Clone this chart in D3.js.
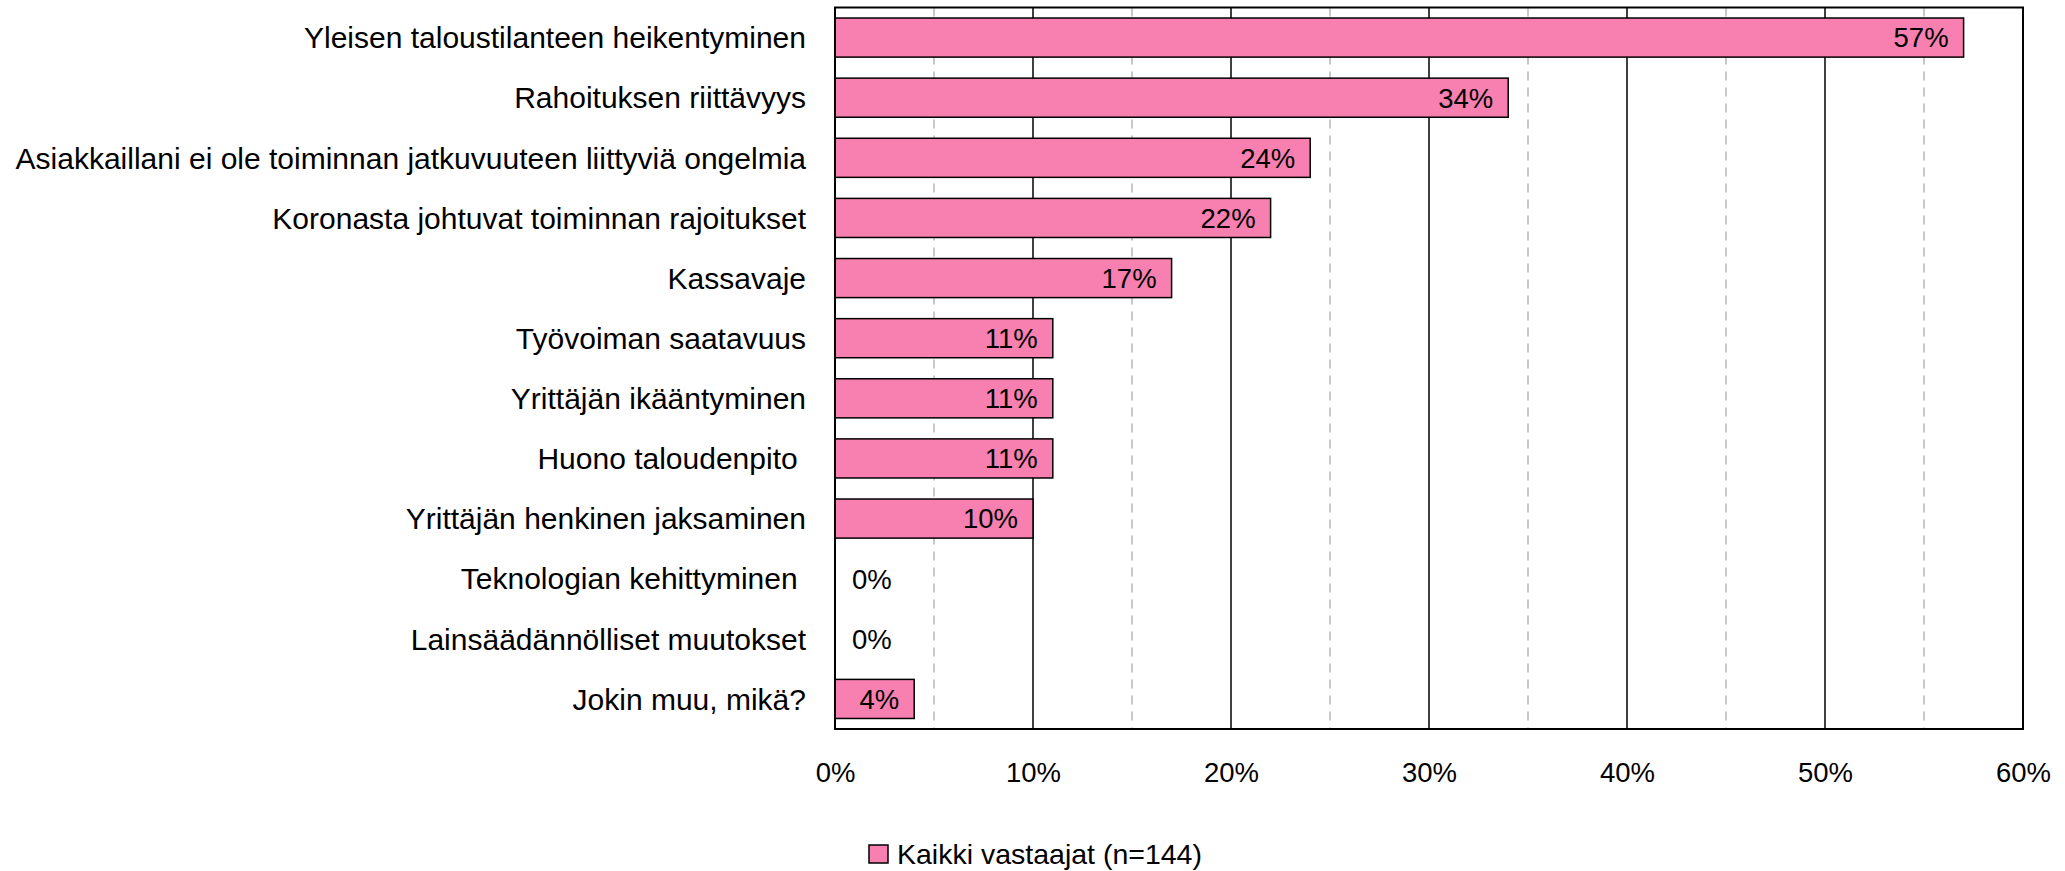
<!DOCTYPE html>
<html>
<head>
<meta charset="utf-8">
<script src="https://cdn.jsdelivr.net/npm/d3@7"></script>
<style>
  body { margin: 0; background: #fff; }
  svg text { font-family: "Liberation Sans", "DejaVu Sans", sans-serif; fill: #000; white-space: pre; }
</style>
</head>
<body>
<div id="vis"></div>
<script>
// Datos
const CATEGORIAS = [
    "Yleisen taloustilanteen heikentyminen",
    "Rahoituksen riittävyys",
    "Asiakkaillani ei ole toiminnan jatkuvuuteen liittyviä ongelmia",
    "Koronasta johtuvat toiminnan rajoitukset",
    "Kassavaje",
    "Työvoiman saatavuus",
    "Yrittäjän ikääntyminen",
    "Huono taloudenpito ",
    "Yrittäjän henkinen jaksaminen",
    "Teknologian kehittyminen ",
    "Lainsäädännölliset muutokset",
    "Jokin muu, mikä?"
];
const VALORES = [57, 34, 24, 22, 17, 11, 11, 11, 10, 0, 0, 4];
const TICKS_MAYORES = [0, 10, 20, 30, 40, 50, 60];
const TICKS_MENORES = [5, 15, 25, 35, 45, 55];
const LEYENDA = "Kaikki vastaajat (n=144)";

const WIDTH = 2065;
const HEIGHT = 871;
const MARGIN = { top: 7.5, bottom: 142, right: 42, left: 835 };

const COLOR_BARRA = "#F880B0";

const SVG = d3.select("#vis").append("svg")
    .attr("width", WIDTH).attr("height", HEIGHT);

const escalaX = d3.scaleLinear()
    .domain([0, 60])
    .range([MARGIN.left, WIDTH - MARGIN.right]);

const escalaY = d3.scaleBand()
    .domain(CATEGORIAS)
    .range([MARGIN.top, HEIGHT - MARGIN.bottom])
    .paddingInner(0.35)
    .paddingOuter(0.175);

const y0 = MARGIN.top;
const y1 = HEIGHT - MARGIN.bottom;

// Líneas de cuadrícula menores (punteadas)
SVG.append("g").selectAll("line")
    .data(TICKS_MENORES)
    .join("line")
    .attr("x1", d => escalaX(d)).attr("x2", d => escalaX(d))
    .attr("y1", y0).attr("y2", y1)
    .attr("stroke", "#c8c8c8")
    .attr("stroke-width", 2)
    .attr("stroke-dasharray", "9,7");

// Líneas de cuadrícula mayores
SVG.append("g").selectAll("line")
    .data(TICKS_MAYORES.slice(1, -1))
    .join("line")
    .attr("x1", d => escalaX(d)).attr("x2", d => escalaX(d))
    .attr("y1", y0).attr("y2", y1)
    .attr("stroke", "#000")
    .attr("stroke-width", 1.5);

// Barras
SVG.append("g").selectAll("rect")
    .data(VALORES.map((v, i) => ({ cat: CATEGORIAS[i], v: v })).filter(d => d.v > 0))
    .join("rect")
    .attr("x", escalaX(0))
    .attr("y", d => escalaY(d.cat))
    .attr("width", d => escalaX(d.v) - escalaX(0))
    .attr("height", escalaY.bandwidth())
    .attr("fill", COLOR_BARRA)
    .attr("stroke", "#000")
    .attr("stroke-width", 1.5);

// Etiquetas de valores
SVG.append("g").selectAll("text")
    .data(VALORES.map((v, i) => ({ cat: CATEGORIAS[i], v: v })))
    .join("text")
    .attr("x", d => d.v > 0 ? escalaX(d.v) - 15 : escalaX(0) + 17)
    .attr("y", d => escalaY(d.cat) + escalaY.bandwidth() / 2)
    .attr("dy", "0.36em")
    .attr("text-anchor", d => d.v > 0 ? "end" : "start")
    .style("font-size", "27.5px")
    .text(d => d.v + "%");

// Borde del área del gráfico
SVG.append("rect")
    .attr("x", MARGIN.left).attr("y", y0)
    .attr("width", escalaX(60) - escalaX(0))
    .attr("height", y1 - y0)
    .attr("fill", "none")
    .attr("stroke", "#000")
    .attr("stroke-width", 2);

// Etiquetas de categorías
SVG.append("g").selectAll("text")
    .data(CATEGORIAS)
    .join("text")
    .attr("x", MARGIN.left - 29)
    .attr("y", d => escalaY(d) + escalaY.bandwidth() / 2)
    .attr("dy", "0.36em")
    .attr("text-anchor", "end")
    .style("font-size", "30px")
    .text(d => d);

// Eje X
const ejeX = d3.axisBottom(escalaX)
    .tickValues(TICKS_MAYORES)
    .tickFormat(d => d + "%")
    .tickSize(0)
    .tickPadding(33);
const gEje = SVG.append("g")
    .attr("transform", `translate(0,${y1})`)
    .call(ejeX);
gEje.select(".domain").remove();
gEje.selectAll("text")
    .style("font-size", "27.5px")
    .style("font-family", "Liberation Sans, sans-serif")
    .attr("fill", "#000");

// Leyenda
const gLeyenda = SVG.append("g");
gLeyenda.append("rect")
    .attr("x", 869).attr("y", 845)
    .attr("width", 19).attr("height", 18)
    .attr("fill", COLOR_BARRA)
    .attr("stroke", "#000")
    .attr("stroke-width", 1.5);
gLeyenda.append("text")
    .attr("x", 897).attr("y", 854)
    .attr("dy", "0.36em")
    .style("font-size", "28.5px")
    .text(LEYENDA);
</script>
</body>
</html>
